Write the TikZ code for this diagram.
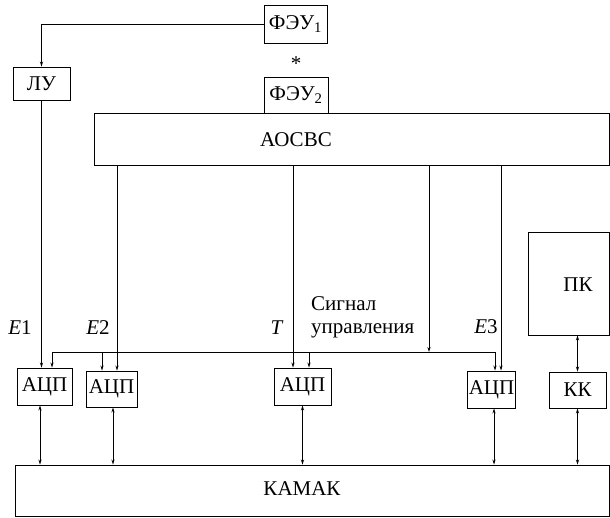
\documentclass[tikz,border=0pt]{standalone}
\usepackage{fontspec}
\setmainfont{Liberation Serif}
\newfontfamily\diagfont{Liberation Serif}
\usetikzlibrary{arrows.meta}

\begin{document}
\begin{tikzpicture}[x=1pt,y=-1pt,
  box/.style={draw, line width=0.9pt, inner sep=0pt, font=\diagfont\fontsize{21}{23}\selectfont},
  lbl/.style={inner sep=0pt, font=\diagfont\fontsize{21}{23}\selectfont},
  wire/.style={line width=0.8pt},
  arr/.style={wire, -{Stealth[length=5pt,width=3.2pt]}},
  biarr/.style={wire, {Stealth[length=5pt,width=3.2pt]}-{Stealth[length=5pt,width=3.2pt]}}]
  \useasboundingbox (0,0) rectangle (610,517);

  % photomultipliers and discriminator
  \node[box, minimum width=63pt, minimum height=38pt] (feu1) at (295.5,24) {ФЭУ\textsubscript{1}};
  \node[lbl] (star) at (296,64) {*};
  \node[box, minimum width=64pt, minimum height=36pt] (feu2) at (296,95) {ФЭУ\textsubscript{2}};
  \node[box, minimum width=57pt, minimum height=33pt] (lu) at (41.5,83.5) {ЛУ};

  % analysis unit
  \node[box, minimum width=515.5pt, minimum height=52pt] (aosvs) at (351.75,139) {};
  \node[lbl] (aosvsText) at (296,140) {АОСВС};

  % converters
  \node[box, minimum width=55pt, minimum height=37pt] (adc1) at (44.5,386.5) {АЦП};
  \node[box, minimum width=51pt, minimum height=36pt] (adc2) at (111.5,389) {АЦП};
  \node[box, minimum width=57pt, minimum height=37pt] (adc3) at (302.5,386.5) {АЦП};
  \node[box, minimum width=48pt, minimum height=37pt] (adc4) at (491.5,389.5) {АЦП};

  % computer and crate controller
  \node[box, minimum width=81.5pt, minimum height=103pt] (pk) at (568.75,283.5) {};
  \node[lbl] (pkText) at (578,285) {ПК};
  \node[box, minimum width=57pt, minimum height=36pt] (kk) at (577.5,390) {КК};

  % crate
  \node[box, minimum width=594.5pt, minimum height=51pt] (kamak) at (312.25,490.5) {};
  \node[lbl] (kamakText) at (302,489) {КАМАК};

  % signal labels
  \node[lbl] (e1) at (20,328) {\textit{E}1};
  \node[lbl] (e2) at (98,328) {\textit{E}2};
  \node[lbl] (t) at (277,328) {\textit{T}};
  \node[lbl] (e3) at (486,327) {\textit{E}3};
  \node[lbl, align=left, anchor=west] (sig) at (311,317) {Сигнал\\управления};

  % PMT1 to discriminator
  \draw[arr] (feu1.west) -| (lu.north);

  % signal lines into converters
  \draw[arr] (lu.south) -- (lu.south |- adc1.north);
  \draw[arr] ([xshift=5.5pt]adc2.north |- aosvs.south) -- ([xshift=5.5pt]adc2.north);
  \draw[arr] ([xshift=-9.5pt]adc3.north |- aosvs.south) -- ([xshift=-9.5pt]adc3.north);
  \draw[arr] ([xshift=9.5pt]adc4.north |- aosvs.south) -- ([xshift=9.5pt]adc4.north);

  % control bus
  \coordinate (busL) at (52,352);
  \coordinate (busR) at (495,352);
  \coordinate (busIn) at (429,352);
  \draw[wire] (busL) -- (busR);
  \draw[arr] (busIn |- aosvs.south) -- (busIn);
  \draw[arr] (busL) -- (busL |- adc1.north);
  \draw[arr] (102,352) -- (102,352 |- adc2.north);
  \draw[arr] (309,352) -- (309,352 |- adc3.north);
  \draw[arr] (busR) -- (busR |- adc4.north);

  % links to the crate
  \draw[biarr] ([xshift=-4.5pt]adc1.south) -- ([xshift=-4.5pt]adc1.south |- kamak.north);
  \draw[biarr] ([xshift=1.5pt]adc2.south) -- ([xshift=1.5pt]adc2.south |- kamak.north);
  \draw[biarr] (adc3.south) -- (adc3.south |- kamak.north);
  \draw[biarr] ([xshift=2.5pt]adc4.south) -- ([xshift=2.5pt]adc4.south |- kamak.north);
  \draw[biarr] (kk.south) -- (kk.south |- kamak.north);
  \draw[biarr] (kk.north |- pk.south) -- (kk.north);
\end{tikzpicture}
\end{document}
